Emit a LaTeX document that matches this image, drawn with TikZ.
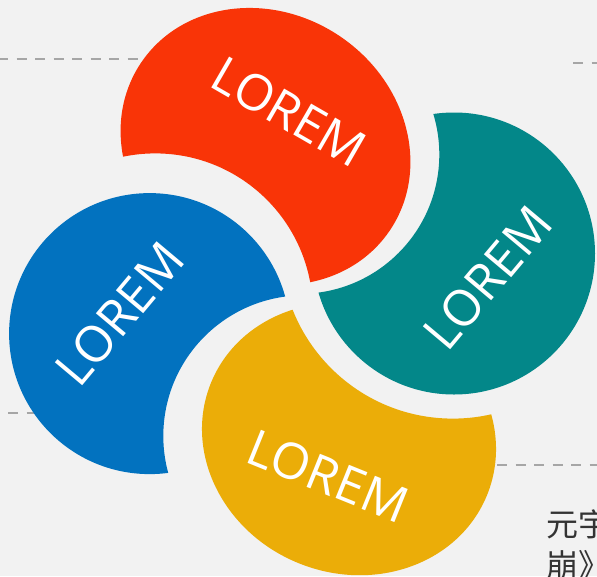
\documentclass[tikz,border=0pt]{standalone}
\usepackage{fontspec}
\setmainfont{Open Sans}
\newfontfamily\cjk{Noto Sans CJK SC}
\definecolor{bgc}{HTML}{F2F2F2}
\definecolor{redc}{HTML}{F93407}
\definecolor{tealc}{HTML}{038789}
\definecolor{bluec}{HTML}{0272BF}
\definecolor{goldc}{HTML}{EBAD08}
\definecolor{dashc}{HTML}{A6A6A6}
\definecolor{txtc}{HTML}{333333}
\tikzset{
  guide/.style={draw=dashc, line width=2.5pt, dash pattern=on 10pt off 8.5pt},
  petaltext/.style={text=white, inner sep=0pt, font=\fontsize{50}{54}\selectfont},
  cjktext/.style={text=txtc, inner sep=0pt, anchor=base west, font=\cjk\fontsize{32}{36}\selectfont},
}
\begin{document}
\begin{tikzpicture}[x=1pt,y=1pt]
\fill[bgc] (0,0) rectangle (597,-576);
\useasboundingbox (0,0) rectangle (597,-576);
% dashed guide lines
\coordinate (g1a) at (-2,-59);  \coordinate (g1b) at (160,-59);
\coordinate (g2a) at (573,-63); \coordinate (g2b) at (600,-63);
\coordinate (g3a) at (8,-413);  \coordinate (g3b) at (80,-413);
\coordinate (g4a) at (497,-465);\coordinate (g4b) at (600,-465);
\draw[guide] (g1a) -- (g1b);
\draw[guide] (g2a) -- (g2b);
\draw[guide] (g3a) -- (g3b);
\draw[guide] (g4a) -- (g4b);
% red petal
\begin{scope}
  \clip[shift={(265.5,-146.5)}, rotate=-34] (0,0) ellipse [x radius=150, y radius=133];
  \fill[redc, even odd rule] (-20,20) rectangle (620,-600) (155.3,-310.9) circle [radius=157.5];
\end{scope}
% teal petal
\begin{scope}
  \clip (454,-253.5) circle [radius=141];
  \fill[tealc, even odd rule] (-20,20) rectangle (620,-600) (300,-154.5) circle [radius=139.3];
\end{scope}
% gold petal
\begin{scope}
  \clip[shift={(349,-439)}, rotate=-22] (0,0) ellipse [x radius=149, y radius=134];
  \fill[goldc, even odd rule] (-20,20) rectangle (620,-600) (452.8,-246.4) circle [radius=172.2];
\end{scope}
% blue petal
\begin{scope}
  \clip (149.6,-333.6) circle [radius=140.5];
  \fill[bluec, even odd rule] (-20,20) rectangle (620,-600) (304,-436) circle [radius=140.7];
\end{scope}
% labels
\node[petaltext, rotate=-30] (tred)  at (289,-112) {LOREM};
\node[petaltext, rotate=50]  (tteal) at (488,-278)  {LOREM};
\node[petaltext, rotate=50]  (tblue) at (120,-314)  {LOREM};
\node[petaltext, rotate=-22] (tgold) at (328,-476) {LOREM};
% partial caption
\node[cjktext] (cap1) at (546,-536) {元宇};
\node[cjktext] (cap2) at (546,-577) {崩》};
\end{tikzpicture}
\end{document}
